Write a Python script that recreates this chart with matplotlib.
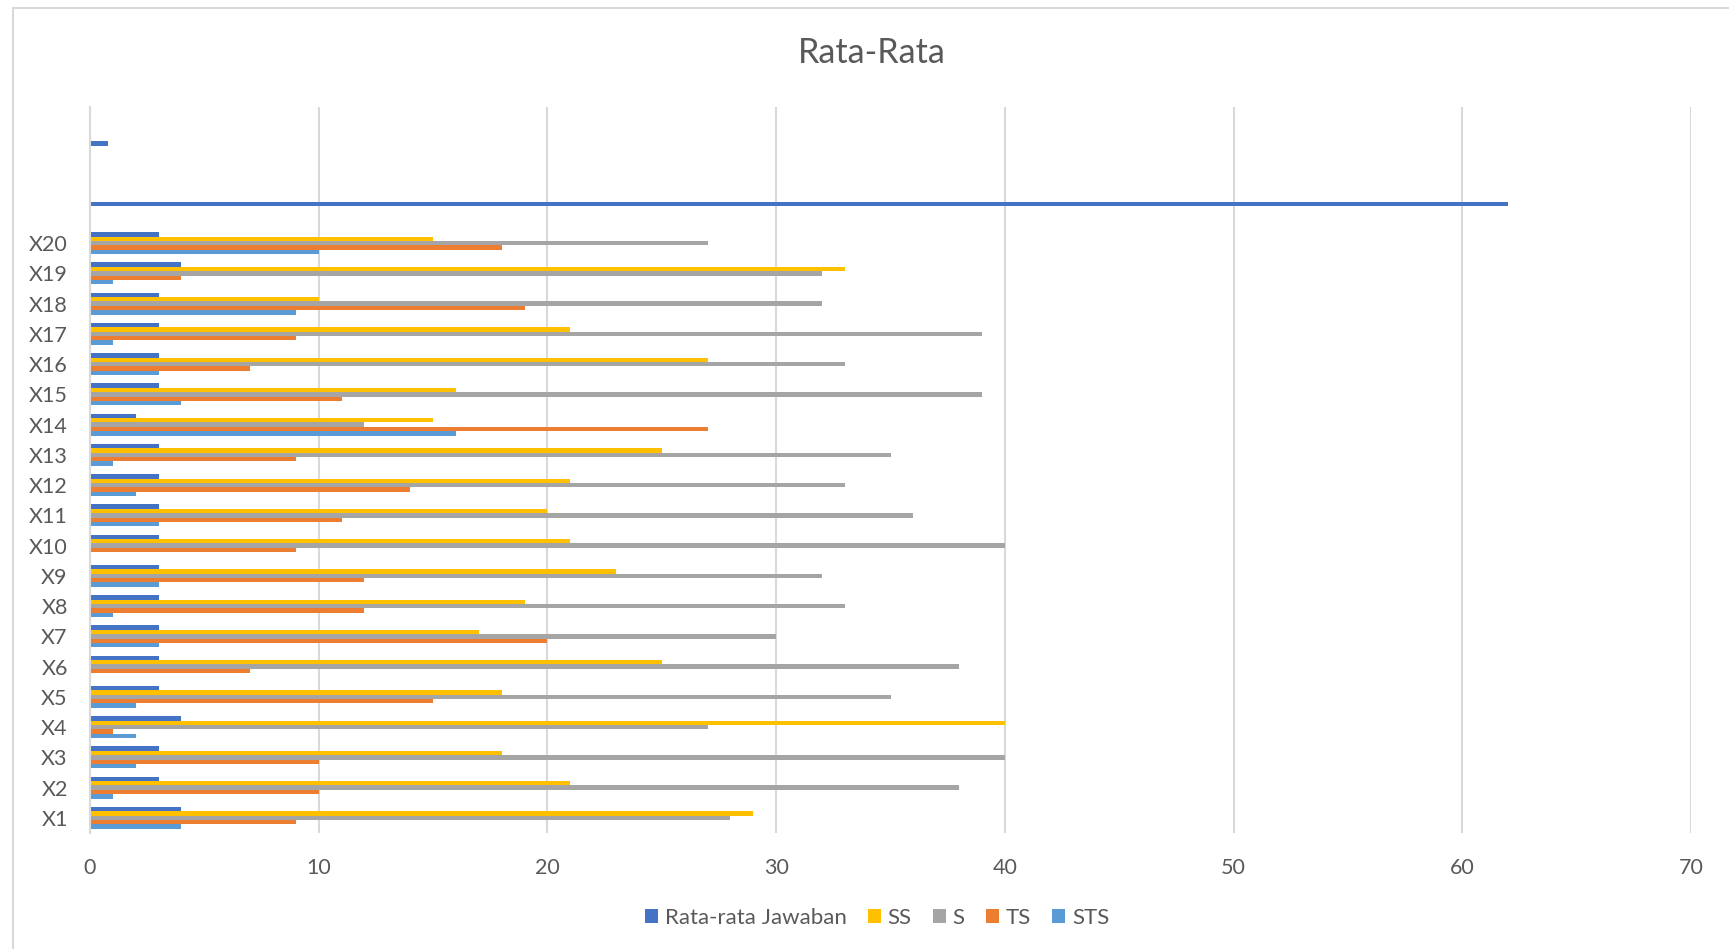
import numpy as np
import matplotlib.pyplot as plt
from matplotlib.patches import Patch, Rectangle

plt.rcParams['font.family'] = ['Lato', 'DejaVu Sans']

# categories from bottom to top; the last four rows have no label
categories = ['X1', 'X2', 'X3', 'X4', 'X5', 'X6', 'X7', 'X8', 'X9', 'X10',
              'X11', 'X12', 'X13', 'X14', 'X15', 'X16', 'X17', 'X18', 'X19', 'X20',
              '', '', '', '']

rata_rata = [4, 3, 3, 4, 3, 3, 3, 3, 3, 3, 3, 3, 3, 2, 3, 3, 3, 3, 4, 3, 62, 0, 0.8, 0]
ss = [29, 21, 18, 40, 18, 25, 17, 19, 23, 21, 20, 21, 25, 15, 16, 27, 21, 10, 33, 15, 0, 0, 0, 0]
s = [28, 38, 40, 27, 35, 38, 30, 33, 32, 40, 36, 33, 35, 12, 39, 33, 39, 32, 32, 27, 0, 0, 0, 0]
ts = [9, 10, 10, 1, 15, 7, 20, 12, 12, 9, 11, 14, 9, 27, 11, 7, 9, 19, 4, 18, 0, 0, 0, 0]
sts = [4, 1, 2, 2, 2, 0, 3, 1, 3, 0, 3, 2, 1, 16, 4, 3, 1, 9, 1, 10, 0, 0, 0, 0]

series_names = ['Rata-rata Jawaban', 'SS', 'S', 'TS', 'STS']
colors = ['#4472C4', '#FFC000', '#A5A5A5', '#ED7D31', '#5B9BD5']
text_color = '#595959'
grid_color = '#D9D9D9'

W, H = 1729, 949
fig = plt.figure(figsize=(W / 100, H / 100), dpi=100)
ax = fig.add_axes([90 / W, 1 - 833 / H, 1601 / W, 726 / H])

y = np.arange(len(categories))
h = 0.1455
offsets = [2, 1, 0, -1, -2]
for vals, off, col in zip([rata_rata, ss, s, ts, sts], offsets, colors):
    ax.barh(y + off * h, vals, height=h, color=col, edgecolor='none', zorder=3)

ax.set_xlim(0, 70)
ax.set_ylim(-0.5, len(categories) - 0.5)
ax.set_xticks(np.arange(0, 71, 10))
ax.set_yticks(y)
ax.set_yticklabels(categories)
ax.tick_params(axis='both', length=0, labelsize=15.5, colors=text_color)
ax.tick_params(axis='y', pad=16)
ax.tick_params(axis='x', pad=18)
ax.grid(axis='x', color=grid_color, linewidth=1.5, zorder=0)
for side in ['top', 'right', 'bottom']:
    ax.spines[side].set_visible(False)
ax.spines['left'].set_color(grid_color)
ax.spines['left'].set_linewidth(1.5)
ax.spines['left'].set_zorder(4)

fig.text(872 / W, 1 - 53 / H, 'Rata-Rata', ha='center', va='center',
         fontsize=24.5, color=text_color)

handles = [Patch(facecolor=c, edgecolor='none') for c in colors]
fig.legend(handles, series_names, loc='center', bbox_to_anchor=(877 / W, 1 - 918 / H),
           ncol=5, frameon=False, fontsize=16, labelcolor=text_color,
           handlelength=0.6, handleheight=0.6, handletextpad=0.3, columnspacing=0.95)

# light chart-area border
fig.patches.append(Rectangle((13 / W, -0.1), 1.2, 1 - 8 / H + 0.1, transform=fig.transFigure,
                             fill=False, edgecolor=grid_color, linewidth=1.5))

fig.savefig('out.png', dpi=100)
